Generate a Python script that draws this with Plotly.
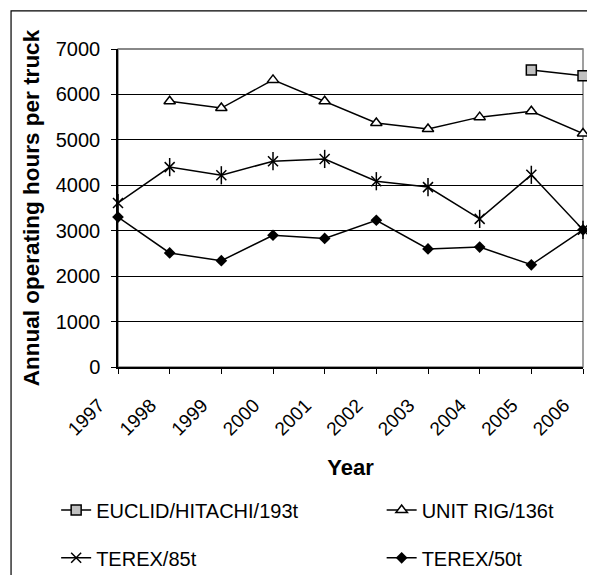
import plotly.graph_objects as go

years = [1997, 1998, 1999, 2000, 2001, 2002, 2003, 2004, 2005, 2006]
euclid_193t = [None, None, None, None, None, None, None, None, 6540, 6410]
unit_rig_136t = [None, 5850, 5700, 6320, 5850, 5370, 5240, 5500, 5630, 5140]
terex_85t = [3610, 4400, 4220, 4530, 4580, 4090, 3960, 3260, 4230, 3020]
terex_50t = [3300, 2510, 2340, 2900, 2830, 3230, 2600, 2640, 2250, 3020]
y_ticks = [0, 1000, 2000, 3000, 4000, 5000, 6000, 7000]

FONT = "Liberation Sans, Arial, sans-serif"
line = dict(color="black", width=1.5)

fig = go.Figure()

fig.add_trace(go.Scatter(
    x=years, y=euclid_193t, name="EUCLID/HITACHI/193t", mode="lines+markers",
    line=line, cliponaxis=False, legend="legend",
    marker=dict(symbol="square", size=10, color="#C0C0C0", line=dict(color="black", width=1.5)),
))
fig.add_trace(go.Scatter(
    x=years, y=unit_rig_136t, name="UNIT RIG/136t", mode="lines+markers",
    line=line, cliponaxis=False, legend="legend2",
    marker=dict(symbol="triangle-up", size=10, color="white", line=dict(color="black", width=1.5)),
))
fig.add_trace(go.Scatter(
    x=years, y=terex_85t, name="TEREX/85t", mode="lines+markers",
    line=line, cliponaxis=False, legend="legend3",
    marker=dict(symbol="x-thin-open", size=10, color="black", line=dict(color="black", width=1.5)),
))
# vertical stroke of the star marker
fig.add_trace(go.Scatter(
    x=years, y=terex_85t, mode="markers", showlegend=False, cliponaxis=False,
    marker=dict(symbol="line-ns-open", size=13, color="black", line=dict(color="black", width=1.5)),
))
fig.add_trace(go.Scatter(
    x=years, y=terex_50t, name="TEREX/50t", mode="lines+markers",
    line=line, cliponaxis=False, legend="legend4",
    marker=dict(symbol="diamond", size=9, color="black", line=dict(color="black", width=0)),
))

fig.update_xaxes(
    range=[1997, 2006], tickvals=years, tickangle=-45,
    showgrid=False, showline=True, linecolor="black", linewidth=1.5,
    ticks="outside", ticklen=5, tickcolor="black",
    ticklabelstandoff=13, ticklabelshift=-19,
    tickfont=dict(family=FONT, size=19, color="black"),
    title=dict(text="<b>Year</b>", font=dict(family=FONT, size=22, color="black"), standoff=21),
)
fig.update_yaxes(
    range=[0, 7000], tickvals=y_ticks,
    showgrid=True, gridcolor="black", gridwidth=1,
    showline=True, linecolor="black", linewidth=1.5, zeroline=False,
    ticks="outside", ticklen=5, tickcolor="black", ticklabelstandoff=7,
    tickfont=dict(family=FONT, size=20, color="black"),
    title=dict(text="<b>Annual operating hours per truck</b>",
               font=dict(family=FONT, size=22.5, color="black"), standoff=10),
)

# plot-area border (grey) and outer chart frame
fig.add_shape(type="rect", xref="paper", yref="paper", x0=0, x1=1, y0=0, y1=1,
              line=dict(color="#808080", width=1.5), layer="below")
fig.add_shape(type="line", xref="paper", yref="paper", x0=0, x1=1, y0=1, y1=1,
              line=dict(color="#808080", width=1.5))
fig.add_shape(type="rect", xref="paper", yref="paper", x0=-0.230, x1=1.05, y0=-0.70, y1=1.12,
              line=dict(color="black", width=1.2))

legend_style = dict(
    orientation="h", xanchor="left", yanchor="middle",
    font=dict(family=FONT, size=20, color="black"), bgcolor="rgba(0,0,0,0)",
)

fig.update_layout(
    width=587, height=567,
    margin=dict(l=110, r=12, t=41, b=208, autoexpand=False),
    plot_bgcolor="white", paper_bgcolor="white",
    legend=dict(x=-0.133, y=-0.450, **legend_style),
    legend2=dict(x=0.567, y=-0.450, **legend_style),
    legend3=dict(x=-0.133, y=-0.600, **legend_style),
    legend4=dict(x=0.567, y=-0.600, **legend_style),
)

fig.write_html("out.html")
